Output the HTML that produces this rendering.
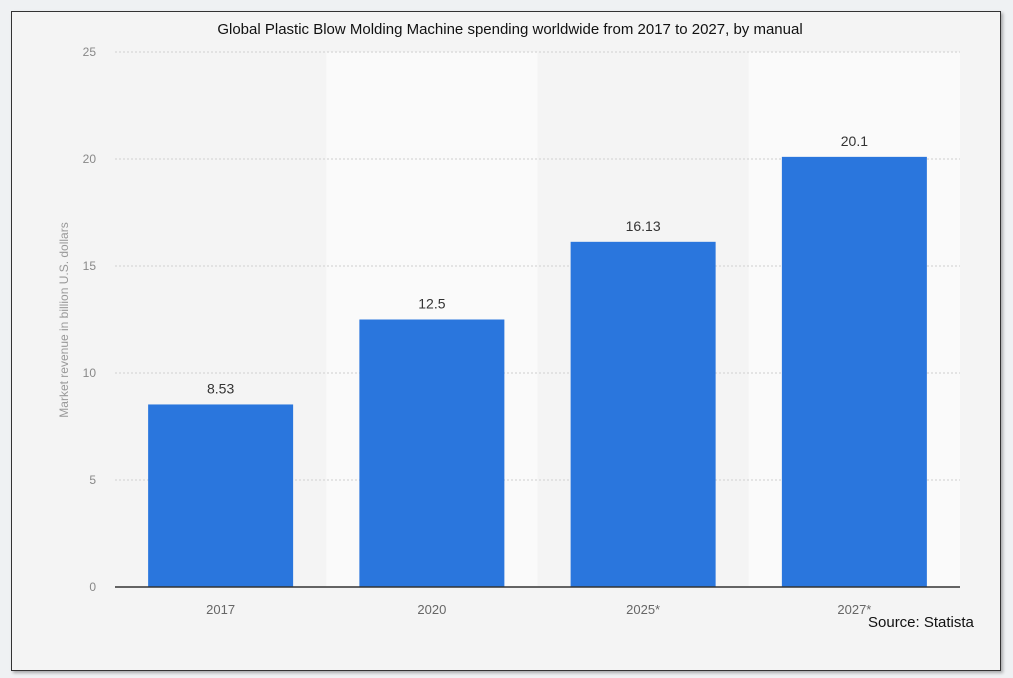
<!DOCTYPE html>
<html><head><meta charset="utf-8"><style>
body{margin:0;width:1013px;height:678px;background:#eff1f3;overflow:hidden;font-family:"Liberation Sans",sans-serif}
#frame{position:absolute;left:11px;top:11px;width:988px;height:658px;border:1px solid #333;background:#f4f4f4;box-shadow:2px 2px 3px rgba(0,0,0,0.3)}
svg{position:absolute;left:0;top:0}
</style></head><body>
<div id="frame"></div>
<svg id="chart" width="1013" height="678"></svg>
<script>
const categories=["2017","2020","2025*","2027*"];
const values=[8.53,12.5,16.13,20.1];
const valueLabels=["8.53","12.5","16.13","20.1"];
const yTicks=[0,5,10,15,20,25];
const svg=document.getElementById('chart');
const NS='http://www.w3.org/2000/svg';
const x0=115,x1=960,yTop=52,yBot=587,yMax=25;
const band=(x1-x0)/categories.length;
const y=v=>yBot-(v/yMax)*(yBot-yTop);
const xb=i=>x0+i*band;
function mk(t,a,txt){const e=document.createElementNS(NS,t);for(const k in a)e.setAttribute(k,a[k]);if(txt!==undefined)e.textContent=txt;svg.appendChild(e);return e;}
categories.forEach((c,i)=>{if(i%2==1){const r=mk('rect',{x:xb(i),y:yTop,width:band,height:yBot-yTop,fill:'#fafafa'});

}});
yTicks.forEach(t=>{if(t>0){const l=mk('line',{x1:x0,x2:x1,y1:y(t),y2:y(t),stroke:'#cfcfcf','stroke-dasharray':'2,2'});

}
const tx=mk('text',{x:96,y:y(t)+4,'text-anchor':'end','font-size':12,fill:'#888'},t);

});
const bw=145,off=(band-bw)/2;
categories.forEach((c,i)=>{
const r=mk('rect',{x:xb(i)+off,y:y(values[i]),width:bw,height:yBot-y(values[i]),fill:'#2a76dd'});


const v=mk('text',{x:xb(i)+band/2,y:y(values[i])-11,'text-anchor':'middle','font-size':14,fill:'#333'},valueLabels[i]);


const xl=mk('text',{x:xb(i)+band/2,y:614,'text-anchor':'middle','font-size':13,fill:'#666'},c);


});
const ax=mk('line',{x1:x0,x2:x1,y1:yBot,y2:yBot,stroke:'#333','stroke-width':1.5});


const yt=mk('text',{x:68,y:320,'text-anchor':'middle','font-size':12,fill:'#999',transform:'rotate(-90 68 320)'},'Market revenue in billion U.S. dollars');


const ti=mk('text',{x:510,y:34,'text-anchor':'middle','font-size':15,fill:'#111'},'Global Plastic Blow Molding Machine spending worldwide from 2017 to 2027, by manual');


const so=mk('text',{x:868,y:627,'font-size':15,fill:'#111'},'Source: Statista');


</script>
</body></html>
